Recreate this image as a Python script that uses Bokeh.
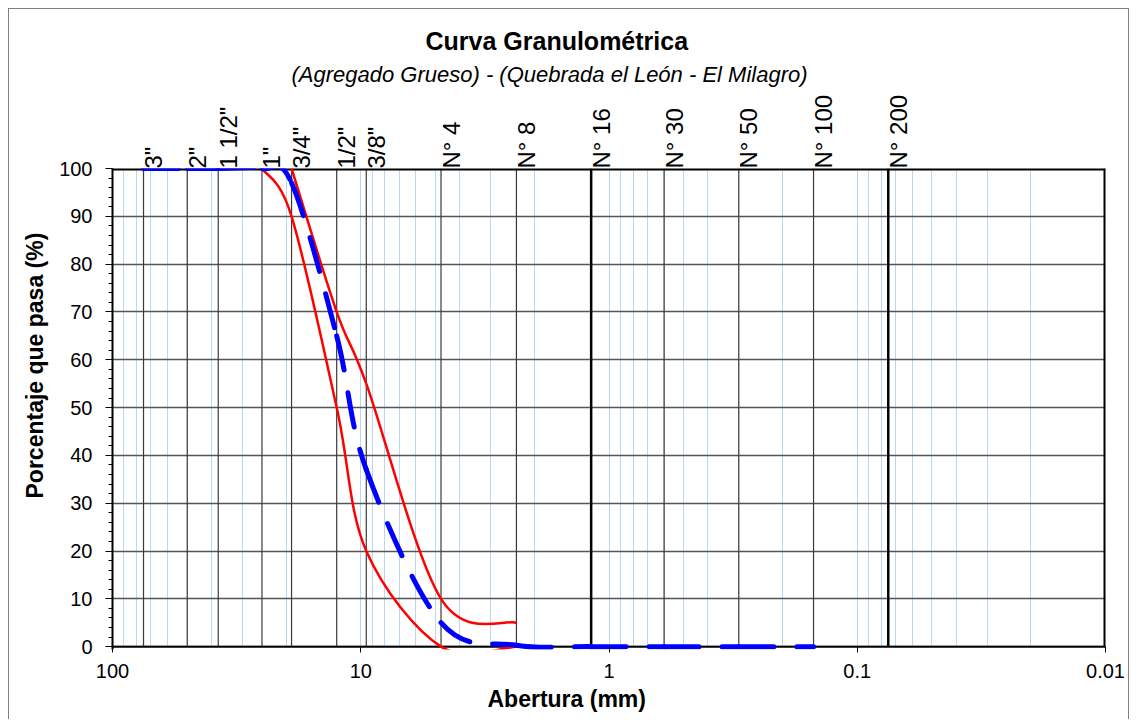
import math
from bokeh.plotting import figure
from bokeh.models import (Range1d, FixedTicker, SingleIntervalTicker, ColumnDataSource,
                          LogAxis, LogScale, Title)
from bokeh.embed import file_html
from bokeh.resources import INLINE

# ---------------- data ----------------
sieve_names = ['3"', '2"', '1 1/2"', '1"', '3/4"', '1/2"', '3/8"',
               'N° 4', 'N° 8', 'N° 16', 'N° 30', 'N° 50', 'N° 100', 'N° 200']
sieve_mm = [75, 50, 37.5, 25, 19, 12.5, 9.5, 4.75, 2.36, 1.18, 0.6, 0.3, 0.15, 0.075]

sample_mm = [75, 50, 37.5, 25, 19, 12.5, 9.5, 4.75, 2.36, 1.18, 0.6, 0.3, 0.15]
sample_pass = [100, 100, 100, 100, 97, 65, 37, 5, 0.3, 0, 0, 0, 0]

upper_mm = [19, 12.5, 9.5, 4.75, 2.36]
upper_pass = [100, 70, 55, 10, 5]

lower_mm = [25, 19, 12.5, 9.5, 4.75, 2.36]
lower_pass = [100, 90, 50, 20, 0, 0]

y_min, y_max = 0, 100
x_max, x_min = 100, 0.01
x_tick_values = [100, 10, 1, 0.1, 0.01]
x_tick_labels = ["100", "10", "1", "0.1", "0.01"]
emphasized_sieves = ['N° 16', 'N° 200']

title_text = "Curva Granulométrica"
subtitle_text = "(Agregado Grueso) - (Quebrada el León - El Milagro)"
x_title = "Abertura (mm)"
y_title = "Porcentaje que pasa (%)"

FONT = "Liberation Sans"


def smooth_segments(xs, ys):
    """Bezier control points (Catmull-Rom style, like a spreadsheet's smoothed line),
    computed in log10(x) space so they follow the log axis."""
    lx = [math.log10(v) for v in xs]
    n = len(xs)
    d = dict(x0=[], y0=[], x1=[], y1=[], cx0=[], cy0=[], cx1=[], cy1=[])
    for i in range(n - 1):
        ip = max(i - 1, 0)
        inx = min(i + 2, n - 1)
        c0x = lx[i] + (lx[i + 1] - lx[ip]) / 6.0
        c0y = ys[i] + (ys[i + 1] - ys[ip]) / 6.0
        c1x = lx[i + 1] - (lx[inx] - lx[i]) / 6.0
        c1y = ys[i + 1] - (ys[inx] - ys[i]) / 6.0
        d["x0"].append(xs[i]); d["y0"].append(ys[i])
        d["x1"].append(xs[i + 1]); d["y1"].append(ys[i + 1])
        d["cx0"].append(10 ** c0x); d["cy0"].append(c0y)
        d["cx1"].append(10 ** c1x); d["cy1"].append(c1y)
    return ColumnDataSource(d)


# a little room below 0 so thick lines lying on the axis are not cut by the frame
pad = 0.6
p = figure(width=1121, height=711, x_axis_type="log", title=None,
           x_range=Range1d(x_max, x_min), y_range=Range1d(y_min - pad, y_max),
           output_backend="svg", toolbar_location=None,
           min_border_left=103, min_border_right=25,
           min_border_top=159, min_border_bottom=71)
p.styles = {"border-left": "1px solid #808080", "border-top": "1px solid #808080",
            "border-right": "1px solid #808080", "margin-left": "8px", "margin-top": "8px"}

p.background_fill_color = "white"
p.border_fill_color = "white"
p.outline_line_color = None

# x axis (bottom)
minor_x = [k * 10.0 ** e for e in range(-2, 2) for k in range(2, 10)]
xax = p.below[0]
xax.ticker = FixedTicker(ticks=x_tick_values, minor_ticks=minor_x)
xax.major_label_overrides = {v: s for v, s in zip(x_tick_values, x_tick_labels)}
xax.major_tick_in = 3
xax.major_tick_out = 3
xax.minor_tick_line_color = None
xax.major_label_standoff = 10
xax.axis_line_color = None
xax.major_tick_line_color = "black"
xax.major_label_text_font = FONT
xax.major_label_text_font_size = "20px"
xax.major_label_text_color = "black"

# y axis
yax = p.left[0]
yax.ticker = SingleIntervalTicker(interval=10, num_minor_ticks=5)
yax.major_tick_in = 0
yax.major_tick_out = 7
yax.minor_tick_in = 0
yax.minor_tick_out = 4
yax.major_label_standoff = 13
yax.axis_line_color = "black"
yax.axis_line_width = 2
yax.major_tick_line_color = "black"
yax.minor_tick_line_color = "black"
yax.major_label_text_font = FONT
yax.major_label_text_font_size = "20px"
yax.major_label_text_color = "black"

# grids
p.xgrid.grid_line_color = "#b7d7f4"
p.xgrid.grid_line_width = 1
p.xgrid.minor_grid_line_color = "#b7d7f4"
p.xgrid.minor_grid_line_width = 1
p.ygrid.grid_line_color = "#555555"
p.ygrid.grid_line_width = 1.3

# white band under the zero line (hides grid stubs in the padding)
p.quad(left=[x_max], right=[x_min], bottom=[y_min - pad], top=[y_min],
       fill_color="white", line_color=None)

# sieve vertical lines
sieve_src = ColumnDataSource(dict(
    mm=sieve_mm, name=sieve_names,
    bottom=[y_min] * len(sieve_mm), top=[y_max] * len(sieve_mm),
    w=[2.5 if n in emphasized_sieves else 1.2 for n in sieve_names],
    c=["black" if n in emphasized_sieves else "#3a3a3a" for n in sieve_names],
))
p.segment(x0="mm", y0="bottom", x1="mm", y1="top", source=sieve_src,
          line_color="c", line_width="w")

# plot-area box: bottom (zero line), top and right edges
p.segment(x0=[x_max, x_max, x_min], y0=[y_min, y_max, y_min],
          x1=[x_min, x_min, x_min], y1=[y_min, y_max, y_max],
          line_color="black", line_width=[2, 4, 4])

# limit curves (red) and sample curve (blue dashed)
bz = dict(x0="x0", y0="y0", x1="x1", y1="y1", cx0="cx0", cy0="cy0", cx1="cx1", cy1="cy1")
p.bezier(source=smooth_segments(upper_mm, upper_pass), line_color="#ff0000",
         line_width=2.5, **bz)
p.bezier(source=smooth_segments(lower_mm, lower_pass), line_color="#ff0000",
         line_width=2.5, **bz)
p.bezier(source=smooth_segments(sample_mm, sample_pass), line_color="#0000ff",
         line_width=5, line_dash="35 23", line_cap="round", **bz)

# sieve names on a top axis (range nudged so each name sits just right of its line)
nudge = 10 ** (10 * 4 / 993)
p.extra_x_ranges = {"sieve_lab": Range1d(x_max * nudge, x_min * nudge)}
p.extra_x_scales = {"sieve_lab": LogScale()}
top_axis = LogAxis(x_range_name="sieve_lab")
top_axis.ticker = FixedTicker(ticks=sieve_mm, minor_ticks=[])
top_axis.major_label_overrides = {v: s for v, s in zip(sieve_mm, sieve_names)}
top_axis.major_label_orientation = math.pi / 2
top_axis.axis_line_color = None
top_axis.major_tick_line_color = None
top_axis.minor_tick_line_color = None
top_axis.major_tick_in = 0
top_axis.major_tick_out = 0
top_axis.major_label_standoff = 0
top_axis.major_label_text_font = FONT
top_axis.major_label_text_font_size = "24px"
top_axis.major_label_text_color = "black"
p.add_layout(top_axis, "above")

# titles (left-aligned with offsets so that they sit where the reference has them)
p.add_layout(Title(text=subtitle_text, align="left", offset=179, text_font=FONT,
                   text_font_size="22px", text_font_style="italic", text_color="black",
                   standoff=9), "above")
p.add_layout(Title(text=title_text, align="left", offset=313, text_font=FONT,
                   text_font_size="25px", text_font_style="bold", text_color="black",
                   standoff=2), "above")
p.add_layout(Title(text=x_title, align="left", offset=375, text_font=FONT,
                   text_font_size="23px", text_font_style="bold", text_color="black",
                   standoff=7), "below")
p.add_layout(Title(text=y_title, align="left", offset=151, text_font=FONT,
                   text_font_size="23px", text_font_style="bold", text_color="black",
                   standoff=17), "left")

open("out.html", "w").write(file_html(p, INLINE))
